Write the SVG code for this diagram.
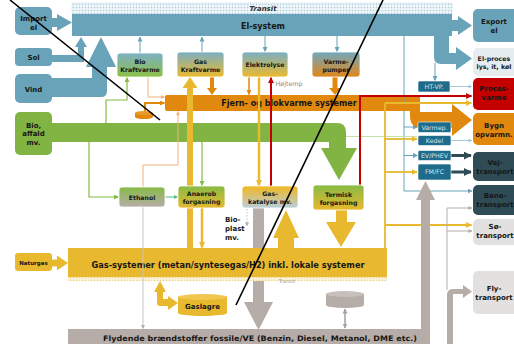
<svg xmlns="http://www.w3.org/2000/svg" width="514" height="344" viewBox="0 0 514 344">
<defs>
<style>
.b{font-family:"DejaVu Sans",Verdana,sans-serif;font-weight:bold;text-anchor:middle;fill:#161616}
.n{font-family:"DejaVu Sans",Verdana,sans-serif;text-anchor:middle}
.f5{font-size:5.5px}
.f6{font-size:6.2px}
.f7{font-size:7px}
.f8{font-size:8px}
.sb{font-family:"DejaVu Sans",Verdana,sans-serif;font-size:6.3px;text-anchor:middle;fill:#d3e6ef}
.blue{fill:#68a3b9}
.box{stroke:#ffffff;stroke-width:0.8}
.sbox{fill:#1e6b8b;stroke:#ffffff;stroke-width:0.6}
.l{fill:none}
</style>
<pattern id="hatchB" width="3" height="3" patternUnits="userSpaceOnUse"><rect width="3" height="3" fill="#eef5f8"/><circle cx="1.5" cy="1.5" r="0.7" fill="#a9cbd9"/></pattern>
<pattern id="hatchY" width="3" height="3" patternUnits="userSpaceOnUse"><rect width="3" height="3" fill="#fbf1d2"/><circle cx="1.5" cy="1.5" r="0.6" fill="#e8c860"/></pattern>
<linearGradient id="gBG" x1="0" y1="0" x2="0" y2="1"><stop offset="0" stop-color="#7db0c6"/><stop offset="1" stop-color="#8cc045"/></linearGradient>
<linearGradient id="gBY" x1="0" y1="0" x2="0" y2="1"><stop offset="0" stop-color="#7aaec4"/><stop offset="1" stop-color="#ebba2c"/></linearGradient>
<linearGradient id="gBO" x1="0" y1="0" x2="0" y2="1"><stop offset="0" stop-color="#70a8bf"/><stop offset="1" stop-color="#e2861a"/></linearGradient>
<linearGradient id="gGGr" x1="0" y1="0" x2="0" y2="1"><stop offset="0" stop-color="#86bb45"/><stop offset="1" stop-color="#b8aca8"/></linearGradient>
<linearGradient id="gGY" x1="0" y1="0" x2="0" y2="1"><stop offset="0" stop-color="#86bb45"/><stop offset="1" stop-color="#e8b92c"/></linearGradient>
<linearGradient id="gYB" x1="0" y1="0" x2="0" y2="1"><stop offset="0" stop-color="#f2b61c"/><stop offset="1" stop-color="#b8cfdc"/></linearGradient>
<marker id="mB" viewBox="0 0 10 10" refX="9" refY="5" markerWidth="5" markerHeight="5" markerUnits="userSpaceOnUse" orient="auto"><path d="M0,0 L10,5 L0,10 z" fill="#68a3b9"/></marker>
<marker id="mLB" viewBox="0 0 10 10" refX="9" refY="5" markerWidth="4" markerHeight="4" markerUnits="userSpaceOnUse" orient="auto"><path d="M0,0 L10,5 L0,10 z" fill="#a9c9d8"/></marker>
<marker id="mO" viewBox="0 0 10 10" refX="9" refY="5" markerWidth="5" markerHeight="5" markerUnits="userSpaceOnUse" orient="auto"><path d="M0,0 L10,5 L0,10 z" fill="#e0890e"/></marker>
<marker id="mLO" viewBox="0 0 10 10" refX="9" refY="5" markerWidth="4" markerHeight="4" markerUnits="userSpaceOnUse" orient="auto"><path d="M0,0 L10,5 L0,10 z" fill="#f0b27a"/></marker>
<marker id="mG" viewBox="0 0 10 10" refX="9" refY="5" markerWidth="5" markerHeight="5" markerUnits="userSpaceOnUse" orient="auto"><path d="M0,0 L10,5 L0,10 z" fill="#86bb45"/></marker>
<marker id="mC" viewBox="0 0 10 10" refX="9" refY="5" markerWidth="4" markerHeight="4" markerUnits="userSpaceOnUse" orient="auto"><path d="M0,0 L10,5 L0,10 z" fill="#4fbf7f"/></marker>
<marker id="mY" viewBox="0 0 10 10" refX="9" refY="5" markerWidth="6" markerHeight="6" markerUnits="userSpaceOnUse" orient="auto"><path d="M0,0 L10,5 L0,10 z" fill="#e8b92e"/></marker>
<marker id="mR" viewBox="0 0 10 10" refX="9" refY="5" markerWidth="6" markerHeight="6" markerUnits="userSpaceOnUse" orient="auto"><path d="M0,0 L10,5 L0,10 z" fill="#c40000"/></marker>
<marker id="mGr" viewBox="0 0 10 10" refX="9" refY="5" markerWidth="4" markerHeight="4" markerUnits="userSpaceOnUse" orient="auto"><path d="M0,0 L10,5 L0,10 z" fill="#b6aca8"/></marker>
<marker id="mGrS" viewBox="0 0 10 10" refX="9" refY="5" markerWidth="5" markerHeight="5" markerUnits="userSpaceOnUse" orient="auto-start-reverse"><path d="M0,0 L10,5 L0,10 z" fill="#a8a09c"/></marker>
<marker id="mD" viewBox="0 0 10 10" refX="9" refY="5" markerWidth="8" markerHeight="8" markerUnits="userSpaceOnUse" orient="auto"><path d="M0,0 L10,5 L0,10 z" fill="#2f4b56"/></marker>
</defs>
<rect width="514" height="344" fill="#ffffff"/>

<!-- bar nodes -->
<g id="el-system">
<rect x="72" y="3" width="380" height="11" fill="url(#hatchB)" stroke="#a9cbd9" stroke-width="0.6" stroke-dasharray="1 1"/>
<rect x="72" y="14" width="380" height="22" class="blue"/>
<text x="263" y="11" class="b" style="font-size:7px;font-style:italic;fill:#333">Transit</text>
<text x="263" y="28.5" class="b f8">El-system</text>
</g>
<g id="fjernvarme">
<rect x="165" y="95" width="255" height="16" rx="2" fill="#e0890e"/>
<text x="289" y="106" class="b f8">Fjern- og blokvarme systemer</text>
</g>
<g id="gas-systemer">
<rect x="68" y="248" width="319" height="29" fill="#e8b92e"/>
<rect x="68" y="277" width="319" height="4" fill="url(#hatchY)"/>
<text x="228" y="267.5" class="b f8" textLength="273" lengthAdjust="spacingAndGlyphs">Gas-systemer (metan/syntesegas/H2) inkl. lokale systemer</text>
<text x="287" y="283" class="n" style="font-size:5px;fill:#999">Transit</text>
</g>
<g id="flydende">
<rect x="68" y="329" width="362" height="15" fill="#b6aca8"/>
<text x="260" y="340.5" class="b" style="font-size:7.5px" textLength="314" lengthAdjust="spacingAndGlyphs">Flydende brændstoffer fossile/VE (Benzin, Diesel, Metanol, DME etc.)</text>
</g>

<!-- connectors -->
<g id="connectors">
<path d="M52 123 L337 123 Q346 123 346 132 L346 148 L357 148 L339 180 L321 148 L329 148 L329 142 L52 142 Z" fill="#82b443"/>
<polygon points="52,18 57,18 57,14 72,22.5 57,31 57,27 52,27" class="blue"/>
<path d="M52 55 L78 55 L78 47 L75 47 L81 37 L87 47 L84 47 L84 62 L52 62 Z" class="blue"/>
<path d="M52 78 L92 78 L92 67 L86 67 L101 37 L116 67 L107 67 L107 91 Q107 97 101 97 L52 97 Z" class="blue"/>
<polygon points="452,20 458,20 458,16 472,25.5 458,35 458,31 452,31" class="blue"/>
<path d="M434 36 L449 36 L449 53 L456 53 L456 47 L472 58.5 L456 70 L456 64 L441 64 Q434 64 434 57 Z" class="blue"/>
<polygon points="52,259.5 57,259.5 57,255.5 68,263 57,270.5 57,266.5 52,266.5" fill="#e8b92e"/>
<g stroke="#68a3b9" stroke-width="1" fill="none">
<line x1="140" y1="53" x2="140" y2="37" marker-end="url(#mB)"/>
<line x1="202" y1="52" x2="202" y2="37" marker-end="url(#mB)"/>
<line x1="265" y1="36" x2="265" y2="51.5" marker-end="url(#mB)"/>
<line x1="337" y1="36" x2="337" y2="51.5" marker-end="url(#mB)"/>
<line x1="404" y1="36" x2="404" y2="191"/>
<line x1="404" y1="127" x2="417.5" y2="127" marker-end="url(#mB)"/>
<line x1="404" y1="155.5" x2="417.5" y2="155.5" marker-end="url(#mB)"/>
<line x1="404" y1="191" x2="472" y2="191" marker-end="url(#mB)"/>
<line x1="435" y1="63" x2="435" y2="80.5" marker-end="url(#mB)"/>
</g>
<line x1="450" y1="86.5" x2="472" y2="86.5" stroke="#a9c9d8" stroke-width="1" marker-end="url(#mLB)"/>
<line x1="451" y1="140.5" x2="472" y2="140.5" stroke="#a9c9d8" stroke-width="1" marker-end="url(#mLB)"/>
<path d="M400 103 L412 103 Q420 103 420 112 L452 112 L452 104 L472 120 L452 136 L452 128 L422 128 Q410 128 410 116 L410 111 L400 111 Z" fill="#e0890e"/>
<polyline points="148,77 148,97 164.5,97" class="l" stroke="#f0b27a" stroke-width="1" marker-end="url(#mLO)"/>
<polyline points="143,187 143,165 178,165 178,111.5" class="l" stroke="#f0b27a" stroke-width="1" marker-end="url(#mLO)"/>
<polyline points="145,111 145,103 164.5,103" class="l" stroke="#e0890e" stroke-width="2.2" marker-end="url(#mO)"/>
<polygon points="210,77 214,77 214,88 217,88 212,95 207,88 210,88" fill="#e0890e"/>
<line x1="249" y1="77" x2="249" y2="94.5" stroke="#e0890e" stroke-width="1.5" marker-end="url(#mO)"/>
<polygon points="332.5,77 337.5,77 337.5,88 341,88 335,95 329,88 332.5,88" fill="#e0890e"/>
<g fill="none" stroke="#86bb45" stroke-width="1.2">
<polyline points="106,123 106,100 127,100 127,77.5" marker-end="url(#mG)"/>
<polyline points="89,142 89,197 118.5,197" marker-end="url(#mG)"/>
<line x1="202" y1="142" x2="202" y2="185.5" marker-end="url(#mG)"/>
</g>
<line x1="346" y1="136.5" x2="417" y2="136.5" stroke="#c8e0aa" stroke-width="1"/>
<line x1="165" y1="197" x2="177.5" y2="197" stroke="#4fbf7f" stroke-width="1" marker-end="url(#mC)"/>
<polygon points="187,248 193,248 193,88 197.5,88 190,77 182.5,88 187,88" fill="#e8b92e"/>
<line x1="202" y1="208" x2="202" y2="247.5" stroke="#e8b92e" stroke-width="2.5" marker-end="url(#mY)"/>
<line x1="259" y1="77" x2="259" y2="185.5" stroke="#e8b92e" stroke-width="2.5" marker-end="url(#mY)"/>
<line x1="271" y1="186" x2="271" y2="77.5" stroke="#c40000" stroke-width="2" marker-end="url(#mR)"/>
<polyline points="360,185 360,96 471.5,96" class="l" stroke="#c40000" stroke-width="2" marker-end="url(#mR)"/>
<g stroke="#e8b92e" stroke-width="1.8" fill="none">
<line x1="385" y1="248" x2="385" y2="103"/>
<line x1="385" y1="103" x2="471.5" y2="103" marker-end="url(#mY)"/>
<line x1="385" y1="139" x2="417" y2="139" marker-end="url(#mY)"/>
<line x1="385" y1="172" x2="417" y2="172" marker-end="url(#mY)"/>
<line x1="385" y1="225" x2="471.5" y2="225" marker-end="url(#mY)"/>
</g>
<polygon points="278,248 278,238 273,238 286,210 299,238 294,238 294,248" fill="#e8b92e"/>
<polygon points="336,210 347,210 347,222 356,222 341,247 326,222 336,222" fill="#e8b92e"/>
<path d="M157 292 L154 292 L160 281 L166 292 L163 292 L163 299 L168 299 L168 296 L178 303 L168 310 L168 306 L160 306 Q157 306 157 303 Z" fill="#e8b92e"/>
<rect x="253" y="208" width="11" height="40" fill="#b6aca8"/>
<polygon points="253,281 264,281 264,302 273,302 258.5,330 244,302 253,302" fill="#b6aca8"/>
<line x1="247" y1="209" x2="247" y2="226" stroke="#c8c0bc" stroke-width="1" stroke-dasharray="1.5 1.5" marker-end="url(#mGr)"/>
<line x1="143" y1="207" x2="143" y2="328.5" stroke="#cbc3bf" stroke-width="1" marker-end="url(#mGr)"/>
<line x1="345" y1="309" x2="345" y2="328" stroke="#a8a09c" stroke-width="1.5" marker-start="url(#mGrS)" marker-end="url(#mGrS)"/>
<polygon points="421,344 430,344 430,200 435,200 425.5,181 416,200 421,200" fill="#b6aca8"/>
<g stroke="#b6aca8" stroke-width="1" fill="none">
<line x1="447" y1="290" x2="447" y2="208"/>
<line x1="447" y1="208" x2="472" y2="208" marker-end="url(#mGr)"/>
<line x1="447" y1="231" x2="472" y2="231" marker-end="url(#mGr)"/>
</g>
<path d="M447 344 L447 295 Q447 289 453 289 L463 289 L463 285 L472 291.5 L463 298 L463 294 L453 294 L453 344 Z" fill="#b6aca8"/>
<line x1="451" y1="155.5" x2="471" y2="155.5" stroke="#2f4b56" stroke-width="3" marker-end="url(#mD)"/>
<line x1="451" y1="172" x2="471" y2="172" stroke="#2f4b56" stroke-width="3" marker-end="url(#mD)"/>
</g>

<!-- source nodes -->
<g id="import-el"><rect x="15" y="7" width="37" height="28" rx="5" class="blue"/><text x="33.5" y="20.5" class="b f7">Import</text><text x="33.5" y="29.5" class="b f7">el</text></g>
<g id="sol"><rect x="15" y="48" width="37" height="18" rx="4" class="blue"/><text x="33.5" y="59.5" class="b f7">Sol</text></g>
<g id="vind"><rect x="15" y="74" width="37" height="29" rx="5" class="blue"/><text x="33.5" y="91.5" class="b f7">Vind</text></g>
<g id="bio"><rect x="15" y="112" width="37" height="43" rx="5" fill="#82b443"/><text x="33.5" y="127.5" class="b f7">Bio,</text><text x="33.5" y="136" class="b f7">affald</text><text x="33.5" y="144.5" class="b f7">mv.</text></g>
<g id="naturgas"><rect x="15" y="253" width="37" height="18" rx="3" fill="#e8b92e"/><text x="33.5" y="264.5" class="b f5">Naturgas</text></g>

<!-- conversion nodes -->
<g id="bio-kraftvarme"><rect x="117" y="53" width="46" height="24" rx="3" fill="url(#gBG)" class="box"/><text x="140" y="64" class="b f6">Bio</text><text x="140" y="72" class="b f6">Kraftvarme</text></g>
<g id="gas-kraftvarme"><rect x="177" y="52" width="47" height="25" rx="3" fill="url(#gBY)" class="box"/><text x="200.5" y="64" class="b f6">Gas</text><text x="200.5" y="72" class="b f6">Kraftvarme</text></g>
<g id="elektrolyse"><rect x="242" y="52" width="46" height="25" rx="3" fill="url(#gBY)" class="box"/><text x="265" y="66.5" class="b f6">Elektrolyse</text></g>
<g id="varmepumper"><rect x="312" y="52" width="48" height="25" rx="3" fill="url(#gBO)" class="box"/><text x="336" y="63.5" class="b f6">Varme-</text><text x="336" y="71.5" class="b f6">pumper</text></g>
<text x="289" y="86" class="n" style="font-size:6.3px;fill:#888">Højtemp</text>
<g id="varmelager"><path d="M135 113 L135 117 A9 2 0 0 0 153 117 L153 113 Z" fill="#e0890e"/><ellipse cx="144" cy="113" rx="9" ry="2" fill="#eb9a2a"/></g>
<g id="ethanol"><rect x="119" y="187" width="46" height="20" rx="3" fill="url(#gGGr)" class="box"/><text x="142" y="199.5" class="b f6">Ethanol</text></g>
<g id="anaerob"><rect x="178" y="186" width="47" height="22" rx="3" fill="url(#gGY)" class="box"/><text x="201.5" y="195.5" class="b f6">Anaerob</text><text x="201.5" y="203.5" class="b f6">forgasning</text></g>
<g id="gas-katalyse"><rect x="242" y="186" width="56" height="22" rx="3" fill="url(#gYB)" class="box"/><text x="270" y="195.5" class="b f6">Gas-</text><text x="270" y="203.5" class="b f6">katalyse mv.</text></g>
<g id="termisk"><rect x="313" y="185" width="51" height="25" rx="3" fill="url(#gGY)" class="box"/><text x="338.5" y="196.5" class="b f6">Termisk</text><text x="338.5" y="204.5" class="b f6">forgasning</text></g>
<g id="bioplast"><text x="225" y="222" class="b f7" style="text-anchor:start">Bio-</text><text x="225" y="231" class="b f7" style="text-anchor:start">plast</text><text x="225" y="240" class="b f7" style="text-anchor:start">mv.</text></g>
<g id="gaslagre"><path d="M178 297 L178 313 A24.5 3 0 0 0 227 313 L227 297 Z" fill="#e8b92e"/><ellipse cx="202.5" cy="297" rx="24.5" ry="3" fill="#f0c850"/><text x="202.5" y="308.5" class="b f7">Gaslagre</text></g>
<g id="olielager"><path d="M326 294 L326 305 A19 3 0 0 0 364 305 L364 294 Z" fill="#b6aca8"/><ellipse cx="345" cy="294" rx="19" ry="3" fill="#c7bfbb"/></g>

<!-- small end-use technology nodes -->
<g id="ht-vp"><rect x="418" y="81" width="32" height="11" rx="1.5" class="sbox"/><text x="434" y="89" class="sb">HT-VP.</text></g>
<g id="varmep"><rect x="418" y="122" width="33" height="10.5" rx="1.5" class="sbox"/><text x="434.5" y="129.5" class="sb">Varmep.</text></g>
<g id="kedel"><rect x="418" y="135.5" width="33" height="10" rx="1.5" class="sbox"/><text x="434.5" y="142.8" class="sb">Kedel</text></g>
<g id="ev-phev"><rect x="418" y="150.5" width="33" height="10" rx="1.5" class="sbox"/><text x="434.5" y="157.8" class="sb">EV/PHEV</text></g>
<g id="fm-fc"><rect x="418" y="164" width="33" height="16" rx="1.5" class="sbox"/><text x="434.5" y="174.3" class="sb">FM/FC</text></g>

<!-- demand nodes -->
<g id="export-el"><rect x="473" y="9" width="50" height="33" rx="5" class="blue"/><text x="494" y="24" class="b f7">Export</text><text x="494" y="33" class="b f7">el</text></g>
<g id="el-proces"><rect x="473" y="48" width="50" height="28" rx="5" fill="#e6edf1"/><text x="494" y="60.5" class="b" style="font-size:6.3px">El-proces</text><text x="494" y="69" class="b" style="font-size:6.3px">lys, it, køl</text></g>
<g id="procesvarme"><rect x="473" y="78" width="50" height="32" rx="5" fill="#c40000"/><text x="494" y="91" class="b f7">Proces-</text><text x="494" y="100" class="b f7">varme</text></g>
<g id="bygn"><rect x="473" y="113" width="50" height="32" rx="5" fill="#e0890e"/><text x="494" y="127.5" class="b f7">Bygn</text><text x="494" y="137" class="b f7">opvarmn.</text></g>
<g id="vejtransport"><rect x="473" y="152" width="50" height="29" rx="5" fill="#2f4b56"/><text x="495" y="165" class="b f7">Vej-</text><text x="495" y="174" class="b f7">transport</text></g>
<g id="banetransport"><rect x="473" y="185" width="50" height="30" rx="5" fill="#2f4b56"/><text x="495" y="198" class="b f7">Bane-</text><text x="495" y="207" class="b f7">transport</text></g>
<g id="sotransport"><rect x="473" y="219" width="50" height="26" rx="5" fill="#e3e1e0"/><text x="495" y="229" class="b f7">Sø-</text><text x="495" y="238" class="b f7">transport</text></g>
<g id="flytransport"><rect x="473" y="271" width="50" height="43" rx="5" fill="#e3e1e0"/><text x="494" y="291" class="b f7">Fly-</text><text x="494" y="300" class="b f7">transport</text></g>

<!-- overlay diagonal lines -->
<g id="overlay" stroke="#000" stroke-width="1.6">
<line x1="10" y1="0" x2="160" y2="120"/>
<line x1="383" y1="0" x2="236" y2="305"/>
</g>
</svg>
